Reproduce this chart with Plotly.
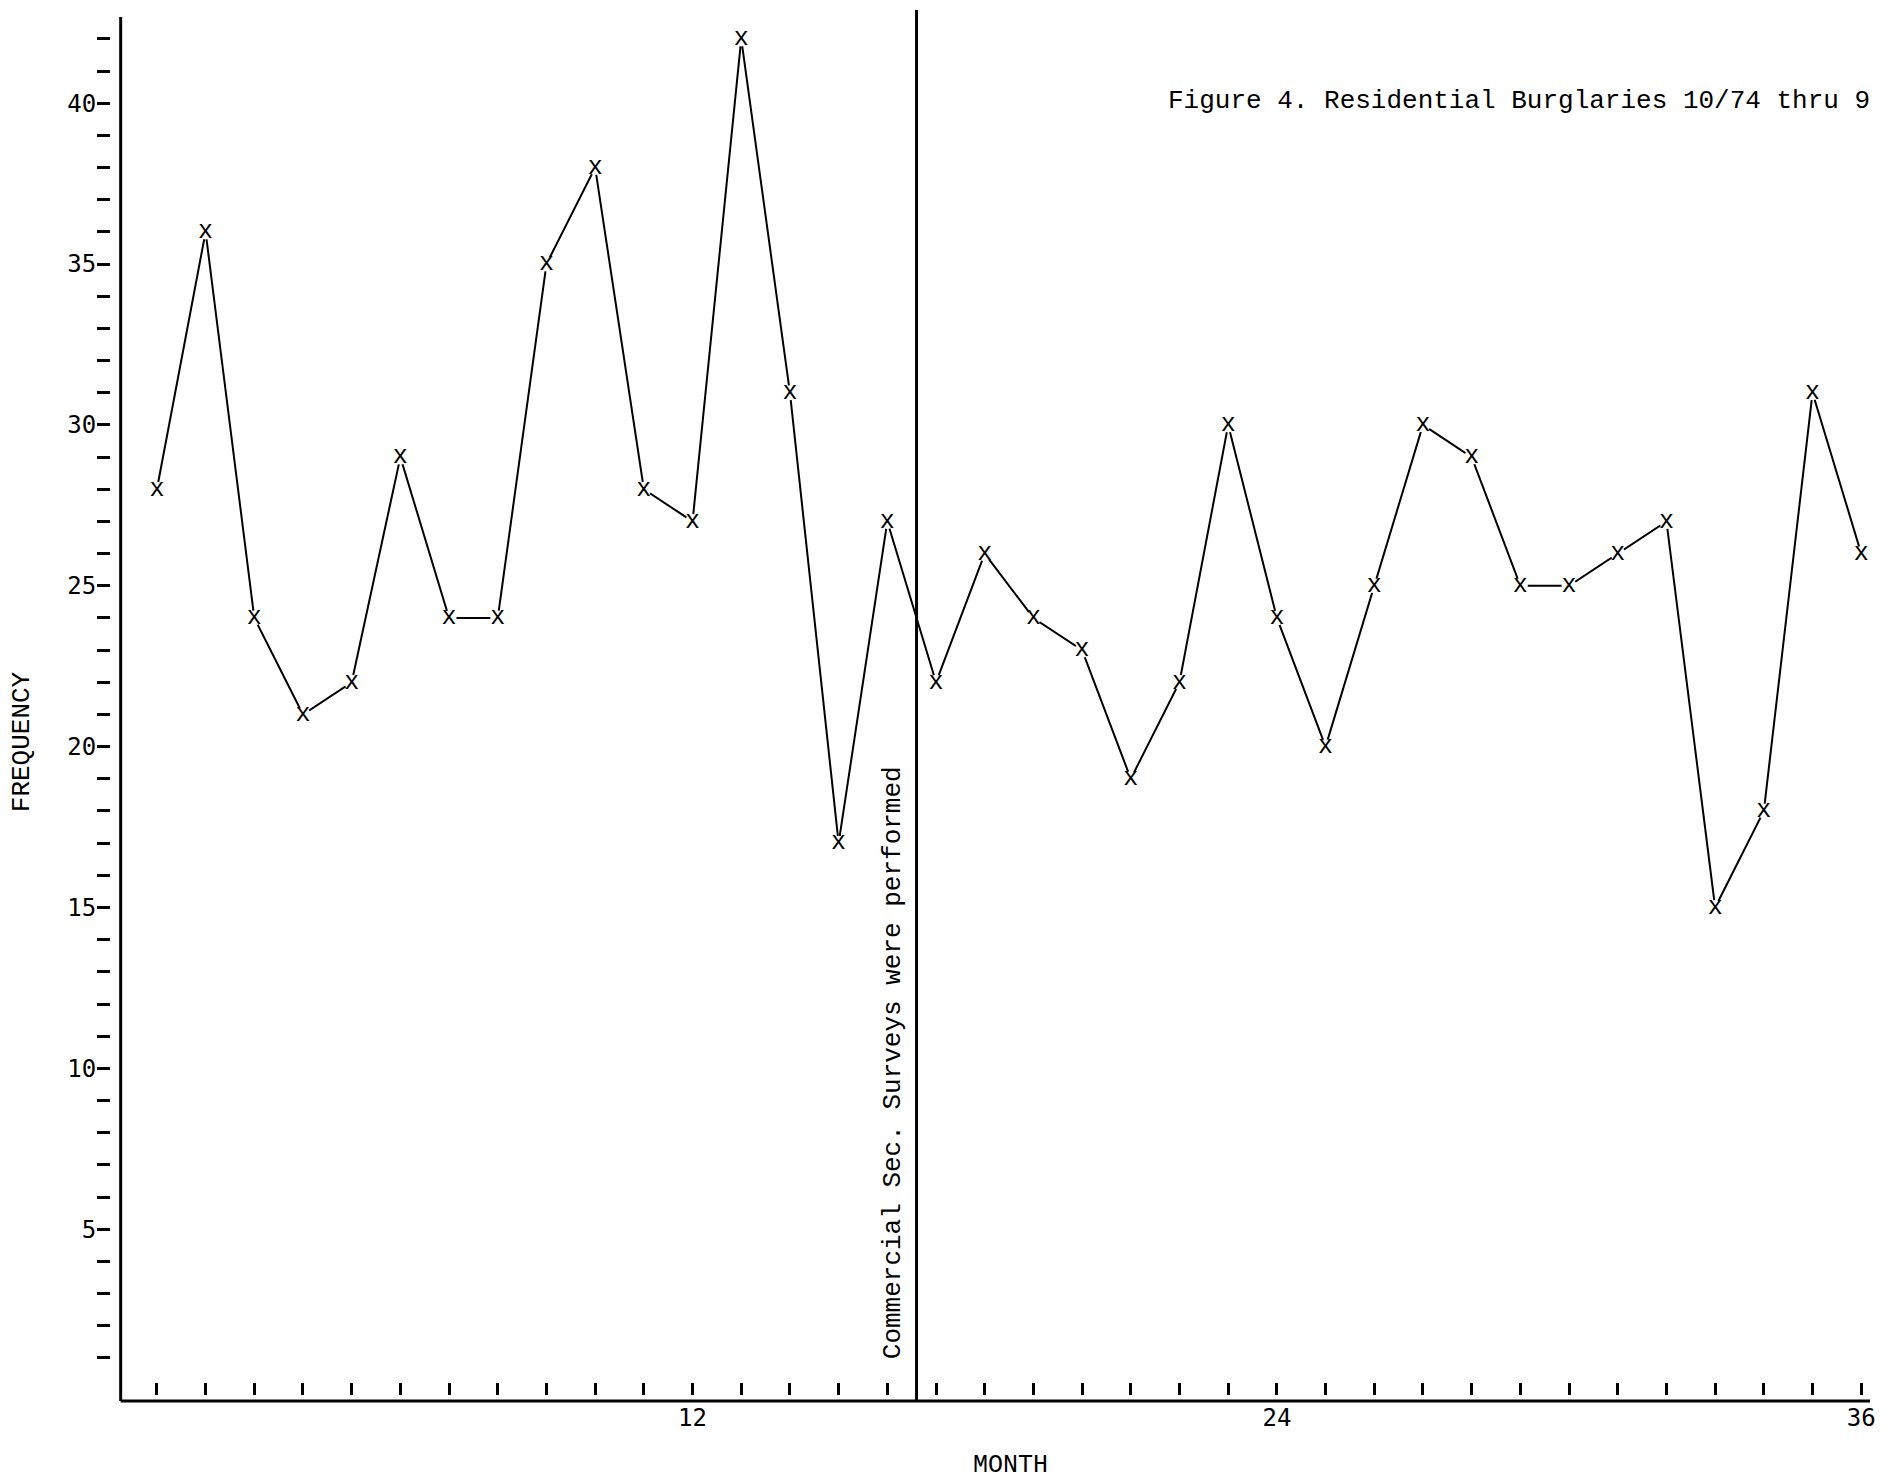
import plotly.graph_objects as go

# ---- data ----
MONTHS = list(range(1, 37))
FREQUENCY = [28, 36, 24, 21, 22, 29, 24, 24, 35, 38, 28, 27,
             42, 31, 17, 27, 22, 26, 24, 23, 19, 22, 30, 24,
             20, 25, 30, 29, 25, 25, 26, 27, 15, 18, 31, 26]
Y_TICK_VALUES = [5, 10, 15, 20, 25, 30, 35, 40]
Y_MINOR_TICKS = list(range(1, 43))
X_TICK_VALUES = [12, 24, 36]
X_MINOR_TICKS = list(range(1, 37))
INTERVENTION_MONTH = 16.6
TITLE_TEXT = "Figure 4. Residential Burglaries 10/74 thru 9"
EVENT_TEXT = "Commercial Sec. Surveys were performed"

W, H = 1888, 1484
L, R, T, B = 110, 14, 17, 83
PW, PH = W - L - R, H - T - B

MONO = "Liberation Mono"
TICKFONT = dict(family="DejaVu Sans Mono", size=24, color="black")

fig = go.Figure()
fig.add_trace(go.Scatter(
    x=MONTHS, y=FREQUENCY,
    mode="lines+markers+text",
    text=["x"] * len(MONTHS),
    textposition="middle center",
    textfont=dict(family=MONO, size=25, color="black"),
    line=dict(color="black", width=2),
    marker=dict(symbol="circle", size=15, color="white", line=dict(width=0)),
    showlegend=False, hoverinfo="x+y",
))

fig.update_layout(
    width=W, height=H,
    margin=dict(l=L, r=R, t=T, b=B, pad=0),
    paper_bgcolor="white", plot_bgcolor="white",
    xaxis=dict(
        domain=[10.7 / PW, 1], range=[0.256, 36.18],
        anchor="free", position=6 / PH,
        showline=False, showgrid=False, zeroline=False,
        tickmode="array", tickvals=X_TICK_VALUES,
        ticktext=[str(v) for v in X_TICK_VALUES],
        ticks="inside", ticklen=12, tickwidth=3, tickcolor="black",
        minor=dict(tickmode="array", tickvals=X_MINOR_TICKS, ticks="inside",
                   ticklen=12, tickwidth=3, tickcolor="black", showgrid=False),
        tickfont=TICKFONT, ticklabelstandoff=6,
    ),
    yaxis=dict(
        domain=[0, 1], range=[-0.34, 42.68],
        anchor="free", position=0,
        showline=False, showgrid=False, zeroline=False,
        tickmode="array", tickvals=Y_TICK_VALUES,
        ticktext=[str(v) for v in Y_TICK_VALUES],
        ticks="outside", ticklen=13, tickwidth=3, tickcolor="black",
        minor=dict(tickmode="array", tickvals=Y_MINOR_TICKS, ticks="outside",
                   ticklen=13, tickwidth=3, tickcolor="black", showgrid=False),
        tickfont=TICKFONT, ticklabelstandoff=-4,
    ),
)

# axis lines (left and bottom) at the edges of the x/y domains
fig.add_shape(type="line", xref="x domain", yref="y domain",
              x0=0, x1=0, y0=0, y1=1, line=dict(color="black", width=3))
fig.add_shape(type="line", xref="x domain", yref="y domain",
              x0=0, x1=1, y0=0, y1=0, line=dict(color="black", width=3))
# intervention line
fig.add_shape(type="line", xref="x", yref="y domain",
              x0=INTERVENTION_MONTH, x1=INTERVENTION_MONTH, y0=0, y1=1 + 7 / PH,
              line=dict(color="black", width=3))

fig.add_annotation(text=EVENT_TEXT, textangle=-90, showarrow=False,
                   xref="paper", yref="paper",
                   x=(895 - L) / PW, y=(H - B - 1063) / PH,
                   xanchor="center", yanchor="middle",
                   font=dict(family=MONO, size=26, color="black"))
fig.add_annotation(text=TITLE_TEXT, showarrow=False,
                   xref="paper", yref="paper",
                   x=(1168 - L) / PW, y=(H - B - 101) / PH,
                   xanchor="left", yanchor="middle",
                   font=dict(family=MONO, size=26, color="black"))
fig.add_annotation(text="FREQUENCY", textangle=-90, showarrow=False,
                   xref="paper", yref="paper",
                   x=(22 - L) / PW, y=(H - B - 742) / PH,
                   xanchor="center", yanchor="middle",
                   font=dict(family=MONO, size=26, color="black"))
fig.add_annotation(text="MONTH", showarrow=False,
                   xref="paper", yref="paper",
                   x=(1013 - L) / PW, y=(H - B - 1465) / PH,
                   xanchor="center", yanchor="middle",
                   font=dict(family=MONO, size=25, color="black"))

fig.write_html("out.html", config={"displayModeBar": False},
               post_script="document.body.style.margin='0';document.body.style.overflow='hidden';")
